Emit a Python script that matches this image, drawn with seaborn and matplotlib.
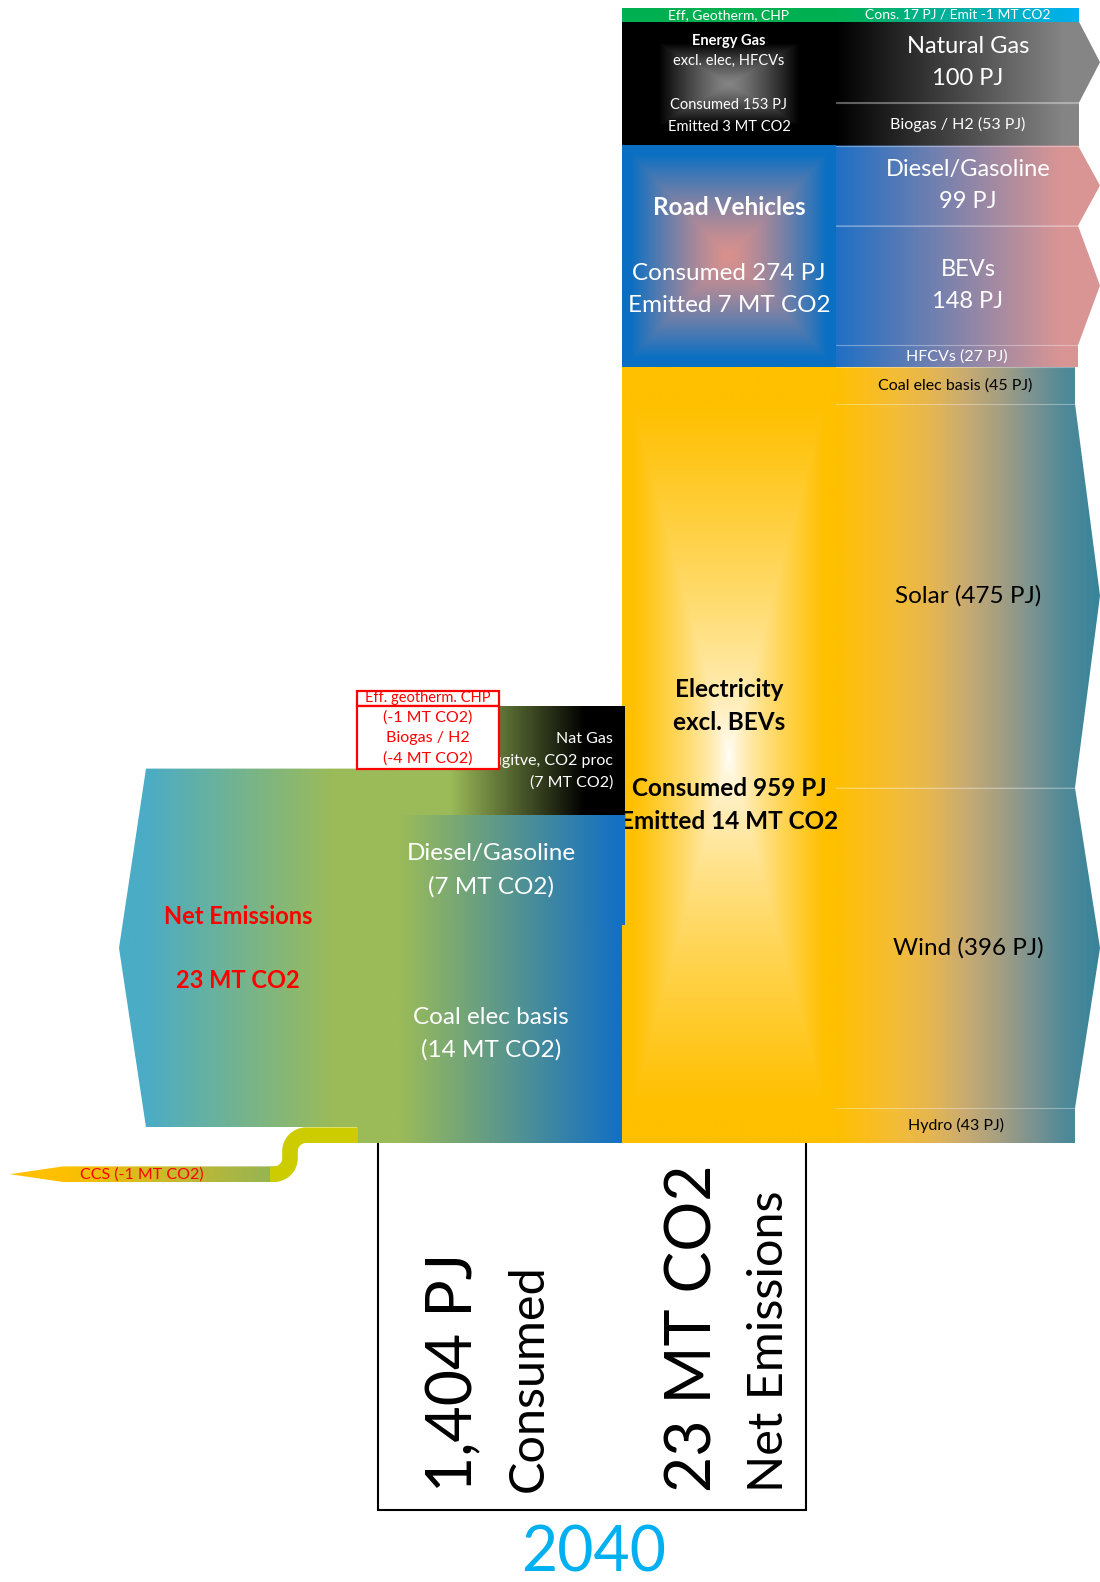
import numpy as np
import matplotlib
matplotlib.use("Agg")
import matplotlib.pyplot as plt
import seaborn as sns
from matplotlib.path import Path
from matplotlib.patches import PathPatch, Polygon, Rectangle
from matplotlib.colors import to_rgb

# ---------------------------------------------------------------- data
year = "2040"

# supply flows feeding each consumption sector (PJ), top to bottom
supply_names = ["Natural Gas", "Biogas / H2", "Diesel/Gasoline", "BEVs", "HFCVs",
                "Coal elec basis", "Solar", "Wind", "Hydro"]
supply_pj = [100, 53, 99, 148, 27, 45, 475, 396, 43]
supply_sector = ["gas", "gas", "road", "road", "road", "elec", "elec", "elec", "elec"]

# efficiency / geothermal / CHP row
efficiency_pj = 17
efficiency_mt = -1

# consumption sectors
sector_keys = ["gas", "road", "elec"]
sector_titles = ["Energy Gas", "Road Vehicles", "Electricity"]
sector_subtitles = ["excl. elec, HFCVs", "", "excl. BEVs"]
sector_emitted_mt = [3, 7, 14]

# emission flows (MT CO2), top to bottom
emission_names = ["Nat Gas", "Diesel/Gasoline", "Coal elec basis"]
emission_detail = ["Fugitve, CO2 proc", "", ""]
emission_mt = [7, 7, 14]

# negative emissions
offset_names = ["Eff. geotherm. CHP", "Biogas / H2"]
offset_mt = [-1, -4]
ccs_mt = -1

net_emissions_mt = 23
total_consumed_pj = 1404

# ---------------------------------------------------------------- style
sns.set_theme(style="white")
plt.rcParams["font.family"] = ["Lato", "DejaVu Sans"]

W, H = 1100, 1582
fig = plt.figure(figsize=(W / 100, H / 100), dpi=100, facecolor="white")

PX_PER_PJ = 1135 / 1403
PX_PER_MT = 15.6
STACK_TOP = 8

NODE_X0, NODE_X1 = 622, 836
ROW_RIGHT = {"gas": 1079, "road": 1078, "elec": 1075}
TIP_X = 1100

FLOW_X0 = 357
NET_TIP_X, NET_BODY_X = 119, 146

GREEN = "#9BBB59"
TEAL = "#4BACC6"
BLUE = "#1470C3"
RED = "#FF0000"

# colour ramps of the supply rows, as (x, colour) stops
row_ramps = {
    "gas": [(NODE_X1, "#000000"), (1064, "#858585"), (TIP_X, "#858585")],
    "road": [(NODE_X1, "#1F6FC5"), (1060, "#D99594"), (TIP_X, "#D99594")],
    "elec": [(NODE_X1, "#FFC000"), (866, "#FBBE1C"), (897, "#F3BC38"),
             (930, "#E6B650"), (963, "#CBAC70"), (997, "#A8A080"),
             (1030, "#7F9490"), (1063, "#528A98"), (TIP_X, "#37849B")],
}
row_text = {"gas": "white", "road": "white", "elec": "black"}
node_edge = {"gas": "#000000", "road": "#0A6FC2", "elec": "#FFC000"}
node_glow = {"gas": "#858585", "road": "#DA918D", "elec": "#FFFFFF"}
node_reach = {"gas": (0.66, 1.25), "road": (0.92, 1.3), "elec": (0.9, 0.7)}
node_text = {"gas": "white", "road": "white", "elec": "black"}

total_stack_pj = efficiency_pj + sum(supply_pj)
stack_bottom_px = STACK_TOP + total_stack_pj * PX_PER_PJ


def make_axes(z):
    a = fig.add_axes([0, 0, 1, 1], zorder=z)
    a.set_axis_off()
    a.patch.set_visible(False)
    return a


axp = make_axes(0)   # frame and year, pixel units
axe = make_axes(1)   # energy stack, PJ
axm = make_axes(2)   # emissions, MT CO2


def dpj(px):
    return px / PX_PER_PJ


def dmt(px):
    return -px / PX_PER_MT


def hgrad(ax, verts, stops, y0, y1, z=2):
    xs_v = [v[0] for v in verts]
    x0, x1 = min(xs_v), max(xs_v)
    xs = np.linspace(x0, x1, 500)
    pos = [s[0] for s in stops]
    cols = np.array([to_rgb(s[1]) for s in stops])
    img = np.stack([np.interp(xs, pos, cols[:, k]) for k in range(3)], axis=-1)[None, :, :]
    im = ax.imshow(img, extent=(x0, x1, y1, y0), aspect="auto",
                   interpolation="bilinear", zorder=z)
    clip = Polygon(verts, closed=True, facecolor="none", edgecolor="none",
                   transform=ax.transData)
    ax.add_patch(clip)
    im.set_clip_path(clip)
    return im


def rect_glow(ax, x0, x1, y0, y1, center, edge, reach, gamma, z=2):
    X, Y = np.meshgrid(np.linspace(-1, 1, 240), np.linspace(-1, 1, 480))
    t = np.maximum(np.abs(X), np.abs(Y))
    u = (np.clip(t / reach, 0, 1) ** gamma)[..., None]
    img = (1 - u) * np.array(to_rgb(center)) + u * np.array(to_rgb(edge))
    ax.imshow(img, extent=(x0, x1, y1, y0), aspect="auto",
              interpolation="bilinear", zorder=z)


# ---------------------------------------------------------------- energy stack (PJ)
# efficiency bar
axe.add_patch(Rectangle((NODE_X0, 0), NODE_X1 - NODE_X0, efficiency_pj,
                        facecolor="#00B050", edgecolor="none", zorder=2))
hgrad(axe, [(NODE_X1, 0), (ROW_RIGHT["gas"], 0), (ROW_RIGHT["gas"], efficiency_pj),
            (NODE_X1, efficiency_pj)],
      [(NODE_X1, "#00B050"), (ROW_RIGHT["gas"], "#00B0F0")], 0, efficiency_pj)
eff_mid = efficiency_pj / 2
axe.text((NODE_X0 + NODE_X1) / 2, eff_mid, "Eff, Geotherm, CHP", color="white",
         fontsize=10, ha="center", va="center", zorder=5)
axe.text((NODE_X1 + ROW_RIGHT["gas"]) / 2, eff_mid,
         f"Cons. {efficiency_pj} PJ / Emit {efficiency_mt} MT CO2", color="white",
         fontsize=10, ha="center", va="center", zorder=5)

# supply rows
cum = efficiency_pj
row_edges = []
for name, pj, sec in zip(supply_names, supply_pj, supply_sector):
    top, bot = cum, cum + pj
    mid = (top + bot) / 2
    xr = ROW_RIGHT[sec]
    big = pj > 60
    if big:
        verts = [(NODE_X1, top), (xr, top), (TIP_X, mid), (xr, bot), (NODE_X1, bot)]
        xc = (NODE_X1 + TIP_X) / 2
    else:
        verts = [(NODE_X1, top), (xr, top), (xr, bot), (NODE_X1, bot)]
        xc = (NODE_X1 + xr) / 2
    hgrad(axe, verts, row_ramps[sec], top, bot)
    col = row_text[sec]
    if big and name in ("Solar", "Wind"):
        axe.text(xc, mid, f"{name} ({pj} PJ)", color=col, fontsize=17.5,
                 ha="center", va="center", zorder=5)
    elif big:
        axe.text(xc, mid - dpj(16), name, color=col, fontsize=17,
                 ha="center", va="center", zorder=5)
        axe.text(xc, mid + dpj(16), f"{pj} PJ", color=col, fontsize=17,
                 ha="center", va="center", zorder=5)
    else:
        axe.text(xc, mid, f"{name} ({pj} PJ)", color=col, fontsize=11.5,
                 ha="center", va="center", zorder=5)
    if cum > efficiency_pj:
        row_edges.append((cum, xr))
    cum = bot

for y, xr in row_edges:
    axe.plot([NODE_X1, xr], [y, y], color="white", alpha=0.35, lw=0.8, zorder=3)

# consumption sector nodes
node_lines = {
    "gas": [(0, True, -42.5, 10.5), (1, False, -22.5, 10.5), (2, False, 21.5, 10.5),
            (3, False, 43.5, 10.5)],
    "road": [(0, True, -49, 17.5), (2, False, 17, 17.5), (3, False, 49, 17.5)],
    "elec": [(0, True, -66, 17.5), (1, True, -33, 17.5), (2, True, 33, 17.5),
             (3, True, 66, 17.5)],
}
cum = efficiency_pj
for key, title, sub, emt in zip(sector_keys, sector_titles, sector_subtitles,
                                sector_emitted_mt):
    consumed = sum(p for p, s in zip(supply_pj, supply_sector) if s == key)
    top, bot = cum, cum + consumed
    mid = (top + bot) / 2
    reach, gamma = node_reach[key]
    rect_glow(axe, NODE_X0, NODE_X1, top, bot, node_glow[key], node_edge[key],
              reach, gamma)
    lines = [title, sub, f"Consumed {consumed} PJ", f"Emitted {emt} MT CO2"]
    for idx, bold, off, fs in node_lines[key]:
        axe.text((NODE_X0 + NODE_X1) / 2, mid + dpj(off), lines[idx],
                 color=node_text[key], fontsize=fs,
                 fontweight="bold" if bold else "normal",
                 ha="center", va="center", zorder=5)
    cum = bot

# ---------------------------------------------------------------- emissions (MT CO2)
ccs_band = abs(ccs_mt)
net_bot, net_top = ccs_band, ccs_band + net_emissions_mt

# emission flows stacked from the bottom of the electricity node
flow_right = {"Nat Gas": 625, "Diesel/Gasoline": 625, "Coal elec basis": 622}
flow_stops = {
    "Nat Gas": [(FLOW_X0, GREEN), (450, GREEN), (585, "#000000"), (625, "#000000")],
    "Diesel/Gasoline": [(FLOW_X0, GREEN), (400, GREEN), (618, BLUE), (625, BLUE)],
    "Coal elec basis": [(FLOW_X0, GREEN), (400, GREEN), (618, BLUE), (625, BLUE)],
}
base = 0
flow_span = {}
for name, mt in zip(reversed(emission_names), reversed(emission_mt)):
    flow_span[name] = (base, base + mt)
    base += mt

for name, detail, mt in zip(emission_names, emission_detail, emission_mt):
    lo, hi = flow_span[name]
    xr = flow_right[name]
    hgrad(axm, [(FLOW_X0, lo), (xr, lo), (xr, hi), (FLOW_X0, hi)],
          flow_stops[name], hi, lo)
    mid = (lo + hi) / 2
    if detail:
        for off, txt in zip([-21.5, 0, 21.5], [name, detail, f"({mt} MT CO2)"]):
            axm.text(613, mid + dmt(off), txt, color="white", fontsize=11.5,
                     ha="right", va="center", zorder=4)
    else:
        for off, txt in zip([-16.5, 16.5], [name, f"({mt} MT CO2)"]):
            axm.text(491, mid + dmt(off), txt, color="white", fontsize=17.5,
                     ha="center", va="center", zorder=4)

# net emissions arrow
net_mid = (net_bot + net_top) / 2
hgrad(axm, [(NET_TIP_X, net_mid), (NET_BODY_X, net_top), (FLOW_X0 + 1, net_top),
            (FLOW_X0 + 1, net_bot), (NET_BODY_X, net_bot)],
      [(NET_TIP_X, TEAL), (NET_BODY_X, TEAL), (333, GREEN), (FLOW_X0 + 1, GREEN)],
      net_bot, net_top)
net_x = 238
axm.text(net_x, net_mid + dmt(-32), "Net Emissions", color=RED, fontsize=17,
         fontweight="bold", ha="center", va="center", zorder=4)
axm.text(net_x, net_mid + dmt(32), f"{net_emissions_mt} MT CO2", color=RED,
         fontsize=17, fontweight="bold", ha="center", va="center", zorder=4)

# negative emission boxes above the net block
box_x0, box_x1 = FLOW_X0, 499
lo = net_top
box_span = {}
for name, mt in zip(reversed(offset_names), reversed(offset_mt)):
    box_span[name] = (lo, lo + abs(mt))
    lo += abs(mt)
for name in offset_names:
    b0, b1 = box_span[name]
    axm.add_patch(Rectangle((box_x0, b0), box_x1 - box_x0, b1 - b0, facecolor="white",
                            edgecolor=RED, lw=1.6, zorder=6))
eff_lo, eff_hi = box_span[offset_names[0]]
bio_lo, bio_hi = box_span[offset_names[1]]
bio_mid = (bio_lo + bio_hi) / 2
box_xc = (box_x0 + box_x1) / 2
axm.text(box_xc, (eff_lo + eff_hi) / 2, offset_names[0], color=RED, fontsize=10.5,
         ha="center", va="center", zorder=7)
box_texts = [(-19.5, f"({offset_mt[0]} MT CO2)"), (0.5, offset_names[1]),
             (21.5, f"({offset_mt[1]} MT CO2)")]
for off, txt in box_texts:
    axm.text(box_xc, bio_mid + dmt(off), txt, color=RED, fontsize=11.5,
             ha="center", va="center", zorder=7)

# carbon capture leaving the bottom of the stack
ccs_y = -2.0
half = ccs_band / 2
hgrad(axm, [(10, ccs_y), (63, ccs_y + half), (276, ccs_y + half),
            (276, ccs_y - half), (63, ccs_y - half)],
      [(10, "#FFC000"), (63, "#FFC000"), (276, "#94B455")],
      ccs_y - half, ccs_y + half)
r_x = 16.0
r_y = r_x / PX_PER_MT
k = 0.552
x_a, x_b, x_c = 274, 274 + r_x, 274 + 2 * r_x
curve = Path([(270, ccs_y), (x_a, ccs_y),
              (x_a + k * r_x, ccs_y), (x_b, ccs_y + r_y - k * r_y), (x_b, ccs_y + r_y),
              (x_b, half - r_y),
              (x_b, half - r_y + k * r_y), (x_c - k * r_x, half), (x_c, half),
              (FLOW_X0 + 1, half)],
             [Path.MOVETO, Path.LINETO,
              Path.CURVE4, Path.CURVE4, Path.CURVE4,
              Path.LINETO,
              Path.CURVE4, Path.CURVE4, Path.CURVE4,
              Path.LINETO])
axm.add_patch(PathPatch(curve, facecolor="none", edgecolor="#CCCC00",
                        lw=ccs_band * PX_PER_MT * 0.72, capstyle="butt",
                        joinstyle="round", zorder=3))
axm.text(142, ccs_y, f"CCS ({ccs_mt} MT CO2)", color=RED, fontsize=11.5,
         ha="center", va="center", zorder=5)

# ---------------------------------------------------------------- totals frame
fx0, fx1, fy1 = 378, 806, 1510
axp.plot([fx0, fx0, fx1, fx1], [stack_bottom_px, fy1, fy1, stack_bottom_px],
         color="black", lw=1.5, solid_joinstyle="miter", zorder=1)
big_texts = [(f"{total_consumed_pj:,} PJ", 472, 45),
             ("Consumed", 543, 35),
             (f"{net_emissions_mt} MT CO2", 712, 45),
             ("Net Emissions", 783, 35)]
for txt, x, fs in big_texts:
    axp.text(x, 1492, txt, rotation=90, rotation_mode="anchor", ha="left",
             va="baseline", fontsize=fs, color="black", zorder=2)
axp.text(594, 1553, year, color="#00B0F0", fontsize=45, ha="center", va="center",
         zorder=2)

# ---------------------------------------------------------------- limits
axp.set_xlim(0, W)
axp.set_ylim(H, 0)
axe.set_xlim(0, W)
axe.set_ylim((H - STACK_TOP) / PX_PER_PJ, -STACK_TOP / PX_PER_PJ)
axm.set_xlim(0, W)
axm.set_ylim(-(H - stack_bottom_px) / PX_PER_MT, stack_bottom_px / PX_PER_MT)

fig.savefig("out.png", dpi=100, facecolor="white")
